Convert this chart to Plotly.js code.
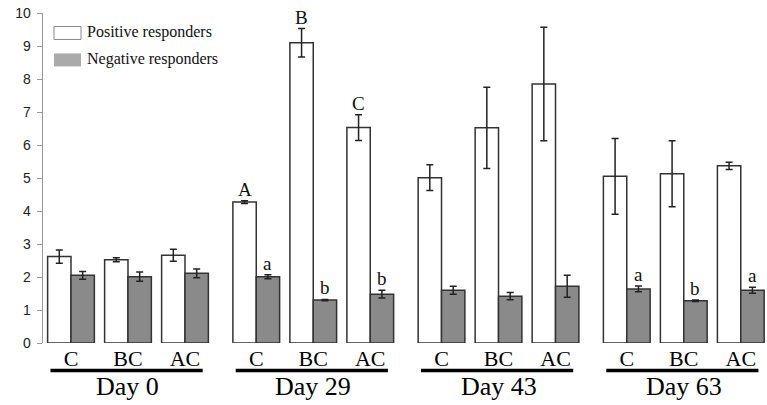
<!DOCTYPE html>
<html>
<head>
<meta charset="utf-8">
<script src="https://cdn.plot.ly/plotly-3.0.1.min.js"></script>
<style>html,body{margin:0;padding:0;background:#fff;}#chart{width:767px;height:405px;}</style>
</head>
<body>
<div id="chart"></div>
<script>
// ---- data ----
const days = ['Day 0', 'Day 29', 'Day 43', 'Day 63'];
const treatments = ['C', 'BC', 'AC'];
const posName = 'Positive responders';
const negName = 'Negative responders';
// order: Day 0 (C, BC, AC), Day 29 (C, BC, AC), Day 43 (...), Day 63 (...)
const posMeans = [2.62, 2.52, 2.66, 4.27, 9.10, 6.53, 5.01, 6.52, 7.85, 5.05, 5.13, 5.37];
const posErr   = [0.20, 0.06, 0.18, 0.04, 0.43, 0.39, 0.39, 1.23, 1.72, 1.15, 1.00, 0.11];
const negMeans = [2.05, 2.01, 2.11, 2.01, 1.30, 1.48, 1.60, 1.42, 1.72, 1.64, 1.28, 1.60];
const negErr   = [0.12, 0.14, 0.13, 0.06, 0.02, 0.12, 0.12, 0.11, 0.33, 0.09, 0.02, 0.09];
const posLetters = ['', '', '', 'A', 'B', 'C', '', '', '', '', '', ''];
const negLetters = ['', '', '', 'a', 'b', 'b', '', '', '', 'a', 'b', 'a'];
const yTicks = [0, 1, 2, 3, 4, 5, 6, 7, 8, 9, 10];

// ---- layout helpers ----
const groupGap = 1.25, barW = 0.41;
const centers = [], tickText = [];
days.forEach((d, g) => treatments.forEach((t, i) => { centers.push(g * 3 + g * (groupGap - 1) + i); tickText.push(t); }));
const xPos = centers.map(c => c - barW / 2);
const xNeg = centers.map(c => c + barW / 2);

const serif = 'Liberation Serif, Times New Roman, serif';
const traces = [
  { type: 'bar', name: posName, x: xPos, y: posMeans, width: barW,
    marker: { color: '#ffffff', line: { color: '#333333', width: 1.5 } },
    error_y: { type: 'data', array: posErr, visible: true, color: '#222', thickness: 1.5, width: 3.5 },
    showlegend: false, hoverinfo: 'y' },
  { type: 'bar', name: negName, x: xNeg, y: negMeans, width: barW,
    marker: { color: '#8a8a8a', line: { color: '#333333', width: 1.5 } },
    error_y: { type: 'data', array: negErr, visible: true, color: '#222', thickness: 1.5, width: 3.5 },
    showlegend: false, hoverinfo: 'y' }
];

const annotations = [], shapes = [];
posLetters.forEach((l, k) => { if (l) annotations.push({ x: xPos[k], y: posMeans[k] + posErr[k], text: l, showarrow: false, yanchor: 'bottom', yshift: -1, font: { family: serif, size: 19, color: '#111' } }); });
negLetters.forEach((l, k) => { if (l) annotations.push({ x: xNeg[k], y: negMeans[k] + negErr[k], text: l, showarrow: false, yanchor: 'bottom', yshift: -1, font: { family: serif, size: 19, color: '#111' } }); });
days.forEach((d, g) => {
  const first = centers[g * 3], last = centers[g * 3 + 2];
  shapes.push({ type: 'line', xref: 'x', yref: 'paper', x0: first - 0.36, x1: last + 0.31, y0: -0.083, y1: -0.083, line: { color: '#000', width: 3.5 } });
  annotations.push({ xref: 'x', yref: 'paper', x: centers[g * 3 + 1], y: -0.132, text: d, showarrow: false, yanchor: 'middle', font: { family: serif, size: 26, color: '#000' } });
});
// legend drawn as shapes/text
const px = v => (v - 43) / 724, py = v => (343 - v) / 330.5;
shapes.push({ type: 'rect', xref: 'paper', yref: 'paper', x0: px(54), x1: px(81), y0: py(39), y1: py(26), line: { color: '#888', width: 1 }, fillcolor: '#fff' });
shapes.push({ type: 'rect', xref: 'paper', yref: 'paper', x0: px(54), x1: px(81), y0: py(66), y1: py(53), line: { width: 0 }, fillcolor: '#aaaaaa' });
annotations.push({ xref: 'paper', yref: 'paper', x: px(85), y: py(32), xanchor: 'left', yanchor: 'middle', text: posName, showarrow: false, font: { family: serif, size: 16, color: '#111' } });
annotations.push({ xref: 'paper', yref: 'paper', x: px(85), y: py(59), xanchor: 'left', yanchor: 'middle', text: negName, showarrow: false, font: { family: serif, size: 16, color: '#111' } });

const layout = {
  width: 767, height: 405,
  margin: { l: 43, r: 0, t: 12.5, b: 62 },
  paper_bgcolor: '#fff', plot_bgcolor: '#fff',
  barmode: 'overlay',
  xaxis: { range: [-0.491, 12.21], tickvals: centers, ticktext: tickText, showline: false, zeroline: false, showgrid: false, ticks: '',
           tickfont: { family: serif, size: 22, color: '#000' }, ticklabelstandoff: 0, fixedrange: true },
  yaxis: { range: [0, 10], tickvals: yTicks, showline: true, linecolor: '#9a9a9a', linewidth: 1.3, ticks: 'outside', ticklen: 5, tickcolor: '#9a9a9a',
           showgrid: false, zeroline: false, tickfont: { family: 'Liberation Sans, Arial, sans-serif', size: 14, color: '#222' }, ticklabelstandoff: 3 },
  shapes: shapes, annotations: annotations
};
Plotly.newPlot('chart', traces, layout, { displayModeBar: false, staticPlot: true });
</script>
</body>
</html>
